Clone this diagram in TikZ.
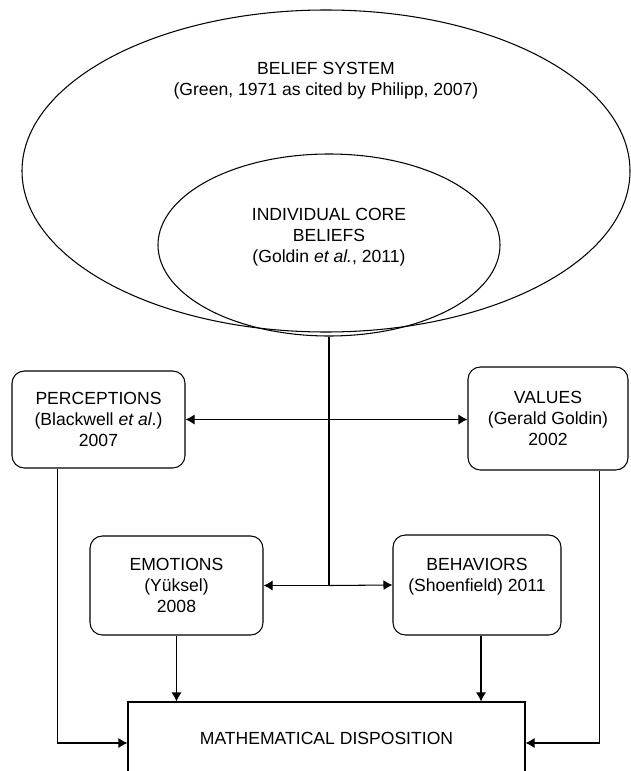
\documentclass[tikz,border=0pt]{standalone}
\usepackage{fontspec}
\setmainfont{Liberation Sans}
\usetikzlibrary{arrows.meta, positioning, shapes.geometric}

\begin{document}
\begin{tikzpicture}[
    line width=0.6pt,
    every node/.style={font=\fontsize{10}{11.8}\selectfont, align=center},
    oval/.style={draw, ellipse, inner sep=0pt},
    rbox/.style={draw, rounded corners=7pt, inner sep=0pt},
    mbox/.style={draw, inner sep=0pt, minimum width=7.94cm, minimum height=1.46cm},
    arr/.style={-{Latex[length=1.8mm, width=2mm]}},
    biarr/.style={{Latex[length=1.8mm, width=2mm]}-{Latex[length=1.8mm, width=2mm]}}
]

    % Moldura
    \useasboundingbox (0, 0) rectangle (12.6, -15.42);

    % Sistema de crencas (elipses)
    \node[oval, minimum width=12.16cm, minimum height=6.44cm] (belief) at (6.52, -3.42) {};
    \node (beliefTxt) at (6.52, -1.62) {BELIEF SYSTEM\\(Green, 1971 as cited by Philipp, 2007)};

    \node[oval, minimum width=6.84cm, minimum height=3.64cm] (core) at (6.58, -4.9) {};
    \node (coreTxt) at (6.58, -4.74) {INDIVIDUAL CORE\\BELIEFS\\(Goldin \textit{et al.}, 2011)};

    % Caixas
    \node[rbox, minimum width=3.46cm, minimum height=1.94cm] (percep) at (1.97, -8.39) {PERCEPTIONS\\(Blackwell \textit{et al}.)\\2007};
    \node[rbox, minimum width=3.2cm, minimum height=2.06cm] (values) at (10.96, -8.37) {VALUES\\(Gerald Goldin)\\2002};
    \node[rbox, minimum width=3.46cm, minimum height=1.98cm] (emot) at (3.53, -11.71) {EMOTIONS\\(Yüksel)\\2008};
    \node[rbox, minimum width=3.36cm, minimum height=2cm] (behav) at (9.54, -11.7) {BEHAVIORS\\(Shoenfield) 2011\\~};
    \node[mbox] (mathdisp) at (6.53, -14.77) {MATHEMATICAL DISPOSITION};

    % Ligacoes
    \coordinate (junc) at (core.south |- emot.east);
    \draw (core.south) -- (junc);
    \draw[biarr] (percep.east) -- (percep.east -| values.west);
    \draw[arr] (junc) -- (emot.east);
    \draw[arr] (junc) -- (behav.west);
    \draw[arr] (emot.south) -- (emot.south |- mathdisp.north);
    \draw[arr] ([xshift=0.08cm]behav.south) -- ([xshift=0.08cm]behav.south |- mathdisp.north);
    \draw[arr] ([xshift=0.92cm]percep.south west) |- ([yshift=-0.09cm]mathdisp.west);
    \draw[arr] ([xshift=-0.58cm]values.south east) |- ([yshift=-0.09cm]mathdisp.east);

\end{tikzpicture}
\end{document}
